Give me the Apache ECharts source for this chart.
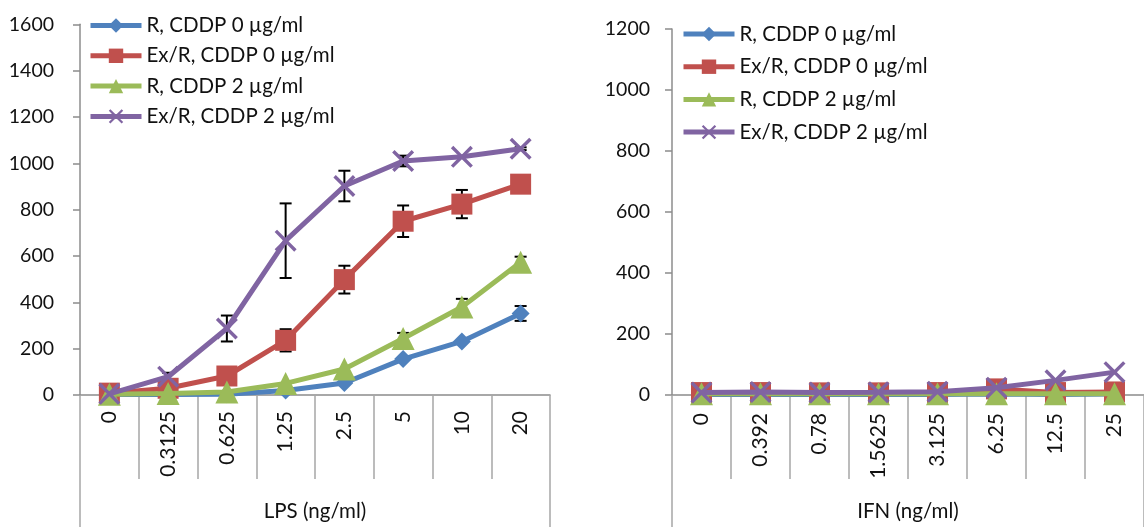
<!DOCTYPE html>
<html>
<head>
<meta charset="utf-8">
<script src="https://cdn.jsdelivr.net/npm/echarts@6/dist/echarts.min.js"></script>
<style>
html,body{margin:0;padding:0;background:#fff;}
#chart{width:1144px;height:527px;}
</style>
</head>
<body>
<div id="chart"></div>
<script>
const lpsCats = ['0', '0.3125', '0.625', '1.25', '2.5', '5', '10', '20'];
const ifnCats = ['0', '0.392', '0.78', '1.5625', '3.125', '6.25', '12.5', '25'];
const seriesNames = ['R, CDDP 0 µg/ml', 'Ex/R, CDDP 0 µg/ml', 'R, CDDP 2 µg/ml', 'Ex/R, CDDP 2 µg/ml'];
const lpsTicks = [0, 1600, 200];
const ifnTicks = [0, 1200, 200];

const lpsR0 = [2, 2, 3, 19, 52, 155, 231, 352];
const lpsEx0 = [8, 29, 82, 236, 498, 750, 824, 910];
const lpsR2 = [3, 7, 13, 50, 112, 244, 380, 573];
const lpsEx2 = [5, 79, 287, 666, 902, 1010, 1028, 1063];

const lpsR0Err = [0, 0, 0, 0, 0, 0, 0, 32];
const lpsEx0Err = [0, 8, 0, 48, 60, 68, 61, 8];
const lpsR2Err = [0, 0, 0, 0, 0, 24, 35, 24];
const lpsEx2Err = [0, 17, 56, 161, 66, 23, 0, 6];

const ifnR0 = [2, 2, 2, 2, 2, 3, 2, 3];
const ifnEx0 = [8, 8, 7, 7, 8, 20, 8, 10];
const ifnR2 = [4, 4, 4, 4, 4, 4, 4, 4];
const ifnEx2 = [8, 10, 8, 9, 11, 24, 48, 75];

const colors = ['#4F81BD', '#C0504D', '#9BBB59', '#8064A2'];
const symbols = ['diamond', 'rect', 'triangle',
  'path://M0,1.1 L1.1,0 L5,3.9 L8.9,0 L10,1.1 L6.1,5 L10,8.9 L8.9,10 L5,6.1 L1.1,10 L0,8.9 L3.9,5 Z'];
const symbolSizes = [18, 21, 23, 22];
const FONT = 'Lato';
const TXT = '#111';

const chart = echarts.init(document.getElementById('chart'), null, {renderer: 'canvas'});

function errRender(params, api) {
  const i = api.value(0), v = api.value(1), e = api.value(2);
  if (!e) return null;
  const top = api.coord([i, v + e]);
  const bot = api.coord([i, v - e]);
  const w = 6;
  const st = {stroke: '#000', lineWidth: 2};
  return {
    type: 'group',
    children: [
      {type: 'line', shape: {x1: top[0], y1: top[1], x2: bot[0], y2: bot[1]}, style: st},
      {type: 'line', shape: {x1: top[0] - w, y1: top[1], x2: top[0] + w, y2: top[1]}, style: st},
      {type: 'line', shape: {x1: bot[0] - w, y1: bot[1], x2: bot[0] + w, y2: bot[1]}, style: st}
    ]
  };
}

function lineSeries(k, data, axisIdx) {
  return {
    type: 'line',
    name: seriesNames[k],
    xAxisIndex: axisIdx,
    yAxisIndex: axisIdx,
    data: data,
    symbol: symbols[k],
    symbolSize: symbolSizes[k],
    showAllSymbol: true,
    lineStyle: {color: colors[k], width: 5},
    itemStyle: {color: colors[k]},
    z: 3 + k,
    animation: false
  };
}

function errSeries(k, vals, errs, axisIdx) {
  return {
    type: 'custom',
    name: 'err' + axisIdx + '_' + k,
    xAxisIndex: axisIdx,
    yAxisIndex: axisIdx,
    renderItem: errRender,
    data: vals.map((v, i) => [i, v, errs[i]]),
    encode: {x: 0, y: 1},
    z: 2,
    silent: true,
    animation: false
  };
}

function catAxis(cats, gridIdx, name, labelMargin, nameGap) {
  return {
    type: 'category',
    gridIndex: gridIdx,
    data: cats,
    boundaryGap: true,
    axisLine: {show: true, lineStyle: {color: '#8c8c8c', width: 1.5}},
    axisTick: {show: true, length: 84, alignWithLabel: false, lineStyle: {color: '#a6a6a6', width: 1.5}},
    axisLabel: {rotate: 90, margin: labelMargin, fontFamily: FONT, fontSize: 21, color: TXT},
    name: name,
    nameLocation: 'middle',
    nameGap: nameGap,
    nameTextStyle: {fontFamily: FONT, fontSize: 20.5, color: TXT},
    splitLine: {show: false}
  };
}

function frameAxis(gridIdx) {
  return {
    type: 'category',
    gridIndex: gridIdx,
    data: [''],
    boundaryGap: true,
    position: 'bottom',
    axisLine: {show: false},
    axisTick: {show: true, length: 140, lineStyle: {color: '#a6a6a6', width: 1.5}},
    axisLabel: {show: false},
    splitLine: {show: false}
  };
}

function valAxis(gridIdx, ticks, labelMargin) {
  return {
    type: 'value',
    gridIndex: gridIdx,
    min: ticks[0],
    max: ticks[1],
    interval: ticks[2],
    axisLine: {show: true, lineStyle: {color: '#8c8c8c', width: 1.5}},
    axisTick: {show: true, length: 7, lineStyle: {color: '#8c8c8c', width: 1.5}},
    axisLabel: {margin: labelMargin, fontFamily: FONT, fontSize: 19.5, color: TXT, formatter: v => String(v)},
    splitLine: {show: false}
  };
}

function legend(left, top, gap) {
  return {
    orient: 'vertical',
    left: left,
    top: top,
    padding: 0,
    itemGap: gap,
    itemWidth: 51,
    itemHeight: 18,
    data: seriesNames,
    lineStyle: {width: 5},
    textStyle: {fontFamily: FONT, fontSize: 20.5, color: TXT, lineHeight: 20},
    selectedMode: false
  };
}

const option = {
  backgroundColor: '#ffffff',
  animation: false,
  grid: [
    {left: 80, right: 594, top: 24.3, bottom: 130.3},
    {left: 672, right: -10.7, top: 29, bottom: 125.3}
  ],
  xAxis: [
    catAxis(lpsCats, 0, 'LPS (ng/ml)', 16, 106),
    catAxis(ifnCats, 1, 'IFN (ng/ml)', 18, 106),
    frameAxis(0),
    frameAxis(1)
  ],
  yAxis: [
    valAxis(0, lpsTicks, 26),
    valAxis(1, ifnTicks, 22)
  ],
  legend: [
    legend(88, 15, 9.3),
    legend(681, 23.5, 11.7)
  ],
  series: [
    errSeries(0, lpsR0, lpsR0Err, 0),
    errSeries(1, lpsEx0, lpsEx0Err, 0),
    errSeries(2, lpsR2, lpsR2Err, 0),
    errSeries(3, lpsEx2, lpsEx2Err, 0),
    lineSeries(0, lpsR0, 0),
    lineSeries(1, lpsEx0, 0),
    lineSeries(2, lpsR2, 0),
    lineSeries(3, lpsEx2, 0),
    lineSeries(0, ifnR0, 1),
    lineSeries(1, ifnEx0, 1),
    lineSeries(2, ifnR2, 1),
    lineSeries(3, ifnEx2, 1)
  ]
};
chart.setOption(option);
</script>
</body>
</html>
